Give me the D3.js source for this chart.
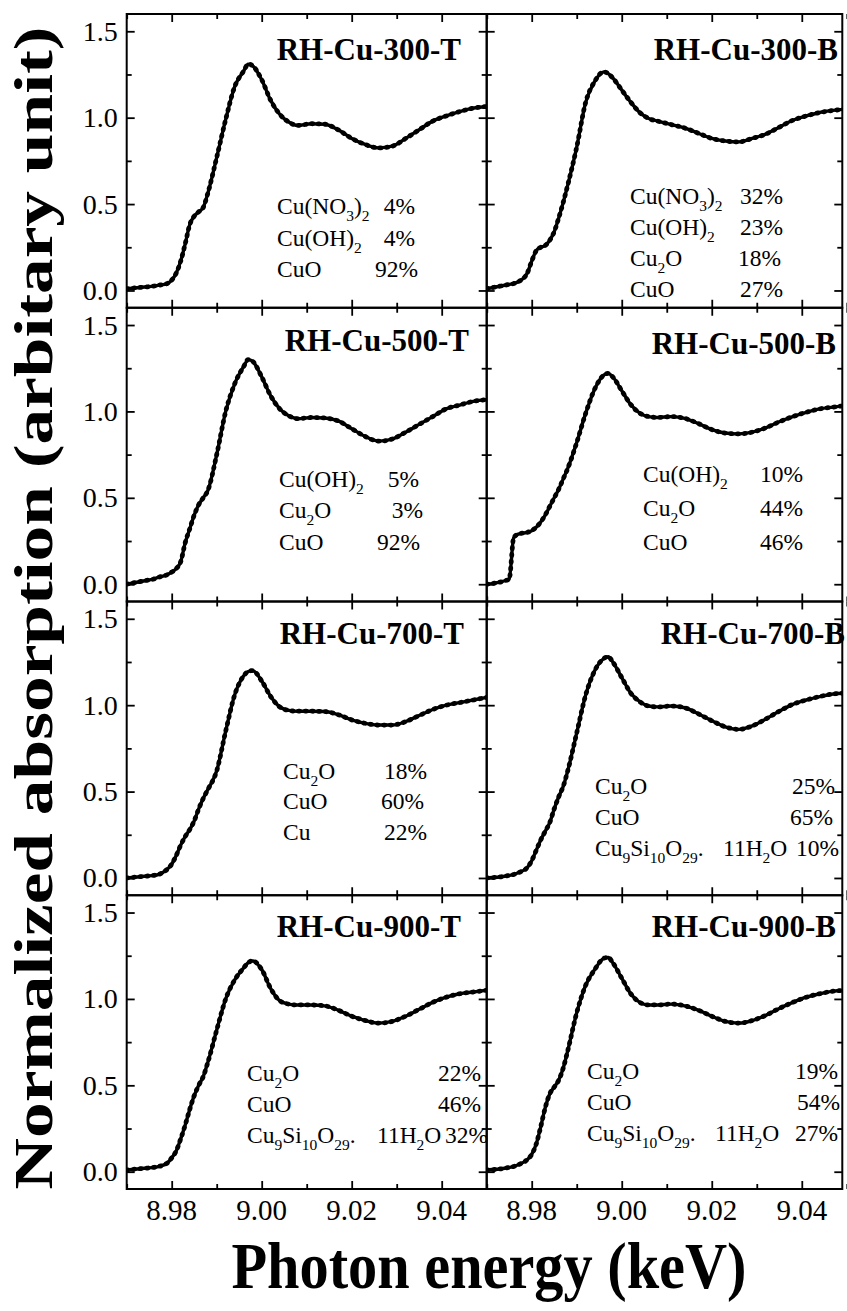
<!DOCTYPE html>
<html><head><meta charset="utf-8">
<script src="https://cdn.jsdelivr.net/npm/d3@7"></script>
<style>body{margin:0;background:#fff}svg{display:block}text{font-family:"Liberation Serif","Times New Roman",Times,serif}</style>
</head><body>
<script>
// ---------------- DATA ----------------
const energy = [8.970, 8.974, 8.975, 8.976, 8.977, 8.979, 8.980, 8.981, 8.982, 8.983, 8.984, 8.985, 8.986, 8.987, 8.988, 8.990, 8.992, 8.994, 8.996, 8.997, 8.998, 9.000, 9.002, 9.004, 9.006, 9.008, 9.011, 9.014, 9.017, 9.020, 9.023, 9.026, 9.029, 9.032, 9.035, 9.038, 9.041, 9.044, 9.047, 9.050];

const mu300T = [0.01,0.02,0.022,0.025,0.03,0.04,0.06,0.10,0.17,0.27,0.38,0.43,0.455,0.48,0.56,0.77,0.99,1.18,1.27,1.31,1.30,1.22,1.10,1.02,0.975,0.955,0.965,0.962,0.93,0.88,0.845,0.825,0.835,0.88,0.93,0.98,1.01,1.035,1.055,1.065];
const mu300B = [0.01,0.03,0.035,0.04,0.05,0.10,0.17,0.23,0.25,0.26,0.29,0.34,0.42,0.51,0.61,0.83,1.09,1.21,1.265,1.255,1.23,1.16,1.09,1.03,0.995,0.98,0.96,0.94,0.91,0.88,0.865,0.86,0.88,0.905,0.945,0.985,1.01,1.03,1.042,1.05];
const mu500T = [0.00,0.02,0.025,0.03,0.04,0.055,0.07,0.09,0.13,0.24,0.32,0.40,0.46,0.50,0.54,0.75,1.00,1.16,1.26,1.30,1.29,1.20,1.09,1.015,0.975,0.958,0.965,0.962,0.945,0.90,0.855,0.828,0.84,0.88,0.925,0.97,1.015,1.037,1.058,1.068];
const mu500B = [0.00,0.02,0.03,0.27,0.29,0.30,0.31,0.33,0.36,0.40,0.45,0.50,0.55,0.61,0.67,0.82,0.99,1.13,1.21,1.22,1.20,1.12,1.04,0.99,0.97,0.965,0.97,0.96,0.93,0.895,0.875,0.87,0.88,0.905,0.94,0.97,0.995,1.015,1.025,1.035];
const mu700T = [0.00,0.01,0.012,0.015,0.02,0.05,0.08,0.13,0.19,0.24,0.28,0.33,0.40,0.46,0.51,0.62,0.85,1.06,1.17,1.195,1.20,1.14,1.05,0.99,0.97,0.965,0.965,0.963,0.945,0.915,0.895,0.885,0.885,0.905,0.94,0.975,1.00,1.015,1.03,1.045];
const mu700B = [0.00,0.01,0.015,0.02,0.03,0.06,0.10,0.16,0.22,0.27,0.32,0.40,0.47,0.53,0.62,0.84,1.06,1.20,1.27,1.28,1.25,1.16,1.07,1.02,0.995,0.99,0.995,0.985,0.95,0.91,0.875,0.86,0.88,0.92,0.965,1.005,1.03,1.05,1.065,1.07];
const mu900T = [0.01,0.02,0.022,0.025,0.03,0.05,0.08,0.12,0.19,0.27,0.36,0.44,0.50,0.55,0.63,0.82,1.00,1.11,1.18,1.21,1.22,1.17,1.06,0.99,0.97,0.965,0.965,0.96,0.935,0.90,0.875,0.86,0.87,0.90,0.94,0.98,1.01,1.03,1.04,1.05];
const mu900B = [0.01,0.02,0.025,0.03,0.04,0.07,0.10,0.16,0.26,0.37,0.45,0.49,0.53,0.60,0.70,0.92,1.08,1.17,1.235,1.24,1.21,1.12,1.03,0.98,0.965,0.965,0.97,0.96,0.935,0.90,0.87,0.86,0.875,0.905,0.945,0.98,1.01,1.03,1.045,1.05];

const panelNames = ["RH-Cu-300-T","RH-Cu-300-B","RH-Cu-500-T","RH-Cu-500-B","RH-Cu-700-T","RH-Cu-700-B","RH-Cu-900-T","RH-Cu-900-B"];
const panelSeries = [mu300T, mu300B, mu500T, mu500B, mu700T, mu700B, mu900T, mu900B];

// fit components: [formula, second part, percentage]
const comp300T = [["Cu(NO_{3})_{2}","","4%"],["Cu(OH)_{2}","","4%"],["CuO","","92%"]];
const comp300B = [["Cu(NO_{3})_{2}","","32%"],["Cu(OH)_{2}","","23%"],["Cu_{2}O","","18%"],["CuO","","27%"]];
const comp500T = [["Cu(OH)_{2}","","5%"],["Cu_{2}O","","3%"],["CuO","","92%"]];
const comp500B = [["Cu(OH)_{2}","","10%"],["Cu_{2}O","","44%"],["CuO","","46%"]];
const comp700T = [["Cu_{2}O","","18%"],["CuO","","60%"],["Cu","","22%"]];
const comp700B = [["Cu_{2}O","","25%"],["CuO","","65%"],["Cu_{9}Si_{10}O_{29}.","11H_{2}O","10%"]];
const comp900T = [["Cu_{2}O","","22%"],["CuO","","46%"],["Cu_{9}Si_{10}O_{29}.","11H_{2}O","32%"]];
const comp900B = [["Cu_{2}O","","19%"],["CuO","","54%"],["Cu_{9}Si_{10}O_{29}.","11H_{2}O","27%"]];
const panelComps = [comp300T, comp300B, comp500T, comp500B, comp700T, comp700B, comp900T, comp900B];

const yTicks = [0.0, 0.5, 1.0, 1.5];
const yMinor = [0.25, 0.75, 1.25];
const xTicks = [8.98, 9.00, 9.02, 9.04];
const xMinor = [8.97, 8.99, 9.01, 9.03, 9.05];
const xTitle = "Photon energy (keV)";
const yTitle = "Normalized absorption (arbitary unit)";

// ---------------- LAYOUT ----------------
const W = 847, H = 1311;
const top0 = 14, rowH = 293.75;
const colX = [126.7, 486.7];
const colW = [360, 355.6];
const colDomain = [[8.97, 9.05], [8.97, 9.049]];
const yDomain = [-0.1, 1.6];

const annLayout = [
  {lx:461, ly:46, ax:277, ay:200, dy:31.5, pe:[415,415,418], sx:0},
  {lx:838, ly:46, ax:630, ay:190, dy:31, pe:[783,783,781,783], sx:0},
  {lx:469, ly:43, ax:279, ay:179, dy:31.5, pe:[419,423,420], sx:0},
  {lx:836, ly:46, ax:643, ay:174, dy:34, pe:[803,803,803], sx:0},
  {lx:464, ly:42, ax:283, ay:177, dy:30.5, pe:[427,424,427], sx:0},
  {lx:845, ly:42, ax:595, ay:192, dy:31, pe:[835,833,839], sx:723},
  {lx:461, ly:42, ax:247, ay:186, dy:31, pe:[481,481,488], sx:377},
  {lx:836, ly:42, ax:587, ay:184, dy:31, pe:[838,840,838], sx:715}
];

const svg = d3.select("body").append("svg").attr("width", W).attr("height", H);

function addFormula(textSel, str, fs) {
  const parts = str.split(/(_\{[^}]*\})/).filter(s => s.length);
  let sub = false;
  parts.forEach(p => {
    if (p.startsWith("_{")) {
      textSel.append("tspan").attr("font-size", fs * 0.66).attr("dy", fs * 0.3).text(p.slice(2, -1));
      sub = true;
    } else {
      const t = textSel.append("tspan").text(p);
      if (sub) { t.attr("dy", -fs * 0.3); sub = false; }
    }
  });
}

panelSeries.forEach((series, i) => {
  const col = i % 2, row = Math.floor(i / 2);
  const x0 = colX[col], w = colW[col], y0 = top0 + row * rowH;
  const x = d3.scaleLinear().domain(colDomain[col]).range([x0, x0 + w]);
  const y = d3.scaleLinear().domain(yDomain).range([y0 + rowH, y0]);
  const g = svg.append("g");

  const clipId = "clip" + i;
  svg.append("clipPath").attr("id", clipId).append("rect")
    .attr("x", x0).attr("y", y0).attr("width", w).attr("height", rowH);

  const pts = energy.map((e, k) => [e, series[k]]);
  const line = d3.line().x(d => x(d[0])).y(d => y(d[1])).curve(d3.curveMonotoneX);
  const cg = g.append("g").attr("clip-path", `url(#${clipId})`);
  cg.append("path").attr("d", line(pts)).attr("fill", "none").attr("stroke", "#000").attr("stroke-width", 3.4).attr("stroke-linejoin", "round");
  cg.append("path").attr("d", line(pts)).attr("fill", "none").attr("stroke", "#000").attr("stroke-width", 4.8)
    .attr("stroke-dasharray", "1.2,5.5").attr("stroke-linecap", "round");

  const axL = d3.axisRight(y).tickValues(yTicks).tickSize(8).tickFormat("");
  const axLm = d3.axisRight(y).tickValues(yMinor).tickSize(5).tickFormat("");
  const axR = d3.axisLeft(y).tickValues(yTicks).tickSize(8).tickFormat("");
  const axRm = d3.axisLeft(y).tickValues(yMinor).tickSize(5).tickFormat("");
  const axB = d3.axisTop(x).tickValues(xTicks).tickSize(8).tickFormat("");
  const axBm = d3.axisTop(x).tickValues(xMinor).tickSize(5).tickFormat("");
  const axT = d3.axisBottom(x).tickValues(xTicks).tickSize(8).tickFormat("");
  const axTm = d3.axisBottom(x).tickValues(xMinor).tickSize(5).tickFormat("");
  [[axL, `translate(${x0},0)`], [axLm, `translate(${x0},0)`], [axR, `translate(${x0 + w},0)`], [axRm, `translate(${x0 + w},0)`],
   [axB, `translate(0,${y0 + rowH})`], [axBm, `translate(0,${y0 + rowH})`], [axT, `translate(0,${y0})`], [axTm, `translate(0,${y0})`]]
    .forEach(([ax, tr]) => {
      const a = g.append("g").attr("transform", tr).call(ax);
      a.select(".domain").remove();
      a.selectAll(".tick line").attr("stroke", "#000").attr("stroke-width", 1.8);
    });
  g.append("rect").attr("x", x0).attr("y", y0).attr("width", w).attr("height", rowH)
    .attr("fill", "none").attr("stroke", "#000").attr("stroke-width", 2);

  if (col === 0) {
    g.selectAll(".yl").data(yTicks).enter().append("text")
      .attr("x", x0 - 9).attr("y", d => y(d)).attr("dy", "0.34em")
      .attr("text-anchor", "end").attr("font-size", 28)
      .text(d => d.toFixed(1));
  }
  if (row === 3) {
    g.selectAll(".xl").data(xTicks).enter().append("text")
      .attr("x", d => x(d)).attr("y", y0 + rowH + 31)
      .attr("text-anchor", "middle").attr("font-size", 29)
      .text(d => d.toFixed(2));
  }

  const L = annLayout[i];
  g.append("text").attr("x", L.lx).attr("y", y0 + L.ly).attr("text-anchor", "end")
    .attr("font-weight", "bold").attr("font-size", 31).text(panelNames[i]);

  const fs = 23.5;
  panelComps[i].forEach((c, k) => {
    const by = y0 + L.ay + k * L.dy;
    const t1 = g.append("text").attr("x", L.ax).attr("y", by).attr("font-size", fs);
    addFormula(t1, c[0], fs);
    if (c[1]) {
      const t2 = g.append("text").attr("x", L.sx).attr("y", by).attr("font-size", fs);
      addFormula(t2, c[1], fs);
    }
    g.append("text").attr("x", L.pe[k]).attr("y", by).attr("text-anchor", "end")
      .attr("font-size", fs).text(c[2]);
  });
});

svg.append("text").attr("x", 489).attr("y", 1288).attr("text-anchor", "middle")
  .attr("font-weight", "bold").attr("font-size", 66)
  .attr("textLength", 515).attr("lengthAdjust", "spacingAndGlyphs").text(xTitle);

svg.append("text").attr("transform", "translate(52,608) rotate(-90)").attr("text-anchor", "middle")
  .attr("font-weight", "bold").attr("font-size", 54)
  .attr("textLength", 1163).attr("lengthAdjust", "spacingAndGlyphs").text(yTitle);
</script>
</body></html>
